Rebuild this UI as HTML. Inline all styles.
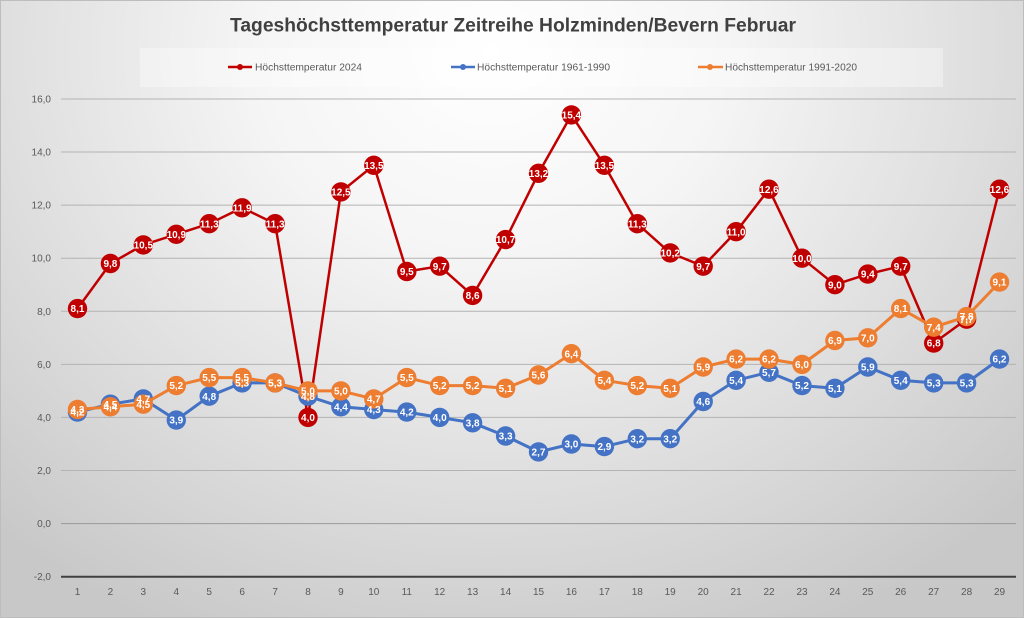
<!DOCTYPE html>
<html>
<head>
<meta charset="utf-8">
<style>
html,body{margin:0;padding:0;}
body{width:1024px;height:618px;overflow:hidden;}
.chart{position:relative;width:1024px;height:618px;box-sizing:border-box;border:1px solid #bdbdbd;
background:radial-gradient(ellipse 72% 105% at 48% 8%, #ffffff 0%, #f5f5f5 32%, #dfdfdf 66%, #c8c8c8 100%);}
svg{position:absolute;left:0;top:0;}
.t{font-family:"Liberation Sans",Arial,sans-serif;}
</style>
</head>
<body>
<div class="chart">
<svg width="1024" height="618" viewBox="0 0 1024 618" xmlns="http://www.w3.org/2000/svg">
  <!-- Title -->
  <text class="t" x="512" y="30.5" text-anchor="middle" font-size="19.5" font-weight="bold" fill="#404040" textLength="566" lengthAdjust="spacingAndGlyphs">Tageshöchsttemperatur Zeitreihe Holzminden/Bevern Februar</text>

  <!-- Legend -->
  <rect x="139" y="47" width="803" height="39" fill="#ffffff" fill-opacity="0.35"/>
  <line x1="227" y1="66" x2="251" y2="66" stroke="#c00000" stroke-width="2.5"/>
  <circle cx="239" cy="66" r="3" fill="#c00000"/>
  <text class="t" x="254" y="69.5" font-size="10" fill="#595959" textLength="107" lengthAdjust="spacingAndGlyphs">Höchsttemperatur 2024</text>
  <line x1="450" y1="66" x2="474" y2="66" stroke="#4472c4" stroke-width="2.5"/>
  <circle cx="462" cy="66" r="3" fill="#4472c4"/>
  <text class="t" x="476" y="69.5" font-size="10" fill="#595959" textLength="133" lengthAdjust="spacingAndGlyphs">Höchsttemperatur 1961-1990</text>
  <line x1="697" y1="66" x2="722" y2="66" stroke="#ed7d31" stroke-width="2.5"/>
  <circle cx="709" cy="66" r="3" fill="#ed7d31"/>
  <text class="t" x="724" y="69.5" font-size="10" fill="#595959" textLength="132" lengthAdjust="spacingAndGlyphs">Höchsttemperatur 1991-2020</text>

  <!-- Gridlines -->
  <g stroke="#b3b3b3" stroke-width="1">
    <line x1="60" y1="98" x2="1015" y2="98"/>
    <line x1="60" y1="151" x2="1015" y2="151"/>
    <line x1="60" y1="204.1" x2="1015" y2="204.1"/>
    <line x1="60" y1="257.2" x2="1015" y2="257.2"/>
    <line x1="60" y1="310.3" x2="1015" y2="310.3"/>
    <line x1="60" y1="363.4" x2="1015" y2="363.4"/>
    <line x1="60" y1="416.4" x2="1015" y2="416.4"/>
    <line x1="60" y1="469.5" x2="1015" y2="469.5"/>
    <line x1="60" y1="522.6" x2="1015" y2="522.6" stroke="#9a9a9a"/>
  </g>
  <line x1="60" y1="575.7" x2="1015" y2="575.7" stroke="#404040" stroke-width="2"/>

  <!-- Y axis labels -->
  <g class="t" font-size="10" fill="#595959" text-anchor="end">
    <text x="50" y="101.5">16,0</text>
    <text x="50" y="154.5">14,0</text>
    <text x="50" y="207.6">12,0</text>
    <text x="50" y="260.7">10,0</text>
    <text x="50" y="313.8">8,0</text>
    <text x="50" y="366.9">6,0</text>
    <text x="50" y="419.9">4,0</text>
    <text x="50" y="473">2,0</text>
    <text x="50" y="526.1">0,0</text>
    <text x="50" y="579.2">-2,0</text>
  </g>

  <!-- X axis labels -->
  <g class="t" font-size="10" fill="#595959" text-anchor="middle">
    <text x="76.5" y="594">1</text><text x="109.4" y="594">2</text><text x="142.3" y="594">3</text><text x="175.3" y="594">4</text><text x="208.2" y="594">5</text><text x="241.1" y="594">6</text><text x="274.1" y="594">7</text><text x="307" y="594">8</text><text x="339.9" y="594">9</text><text x="372.8" y="594">10</text><text x="405.8" y="594">11</text><text x="438.7" y="594">12</text><text x="471.6" y="594">13</text><text x="504.6" y="594">14</text><text x="537.5" y="594">15</text><text x="570.4" y="594">16</text><text x="603.4" y="594">17</text><text x="636.3" y="594">18</text><text x="669.2" y="594">19</text><text x="702.2" y="594">20</text><text x="735.1" y="594">21</text><text x="768" y="594">22</text><text x="801" y="594">23</text><text x="833.9" y="594">24</text><text x="866.8" y="594">25</text><text x="899.7" y="594">26</text><text x="932.7" y="594">27</text><text x="965.6" y="594">28</text><text x="998.5" y="594">29</text>
  </g>

  <!-- Red series 2024 -->
  <polyline fill="none" stroke="#c00000" stroke-width="2.5" stroke-linejoin="round" points="76.5,307.6 109.4,262.5 142.3,243.9 175.3,233.3 208.2,222.7 241.1,206.8 274.1,222.7 307,416.4 339.9,190.9 372.8,164.3 405.8,270.5 438.7,265.2 471.6,294.4 504.6,238.6 537.5,172.3 570.4,113.9 603.4,164.3 636.3,222.7 669.2,251.9 702.2,265.2 735.1,230.7 768,188.2 801,257.2 833.9,283.7 866.8,273.1 899.7,265.2 932.7,342.1 965.6,318.2 998.5,188.2"/>
  <g fill="#c00000">
    <circle cx="76.5" cy="307.6" r="9.7"/><circle cx="109.4" cy="262.5" r="9.7"/><circle cx="142.3" cy="243.9" r="9.7"/><circle cx="175.3" cy="233.3" r="9.7"/><circle cx="208.2" cy="222.7" r="9.7"/><circle cx="241.1" cy="206.8" r="9.7"/><circle cx="274.1" cy="222.7" r="9.7"/><circle cx="307" cy="416.4" r="9.7"/><circle cx="339.9" cy="190.9" r="9.7"/><circle cx="372.8" cy="164.3" r="9.7"/><circle cx="405.8" cy="270.5" r="9.7"/><circle cx="438.7" cy="265.2" r="9.7"/><circle cx="471.6" cy="294.4" r="9.7"/><circle cx="504.6" cy="238.6" r="9.7"/><circle cx="537.5" cy="172.3" r="9.7"/><circle cx="570.4" cy="113.9" r="9.7"/><circle cx="603.4" cy="164.3" r="9.7"/><circle cx="636.3" cy="222.7" r="9.7"/><circle cx="669.2" cy="251.9" r="9.7"/><circle cx="702.2" cy="265.2" r="9.7"/><circle cx="735.1" cy="230.7" r="9.7"/><circle cx="768" cy="188.2" r="9.7"/><circle cx="801" cy="257.2" r="9.7"/><circle cx="833.9" cy="283.7" r="9.7"/><circle cx="866.8" cy="273.1" r="9.7"/><circle cx="899.7" cy="265.2" r="9.7"/><circle cx="932.7" cy="342.1" r="9.7"/><circle cx="965.6" cy="318.2" r="9.7"/><circle cx="998.5" cy="188.2" r="9.7"/>
  </g>

  <!-- Blue series 1961-1990 -->
  <polyline fill="none" stroke="#4472c4" stroke-width="3" stroke-linejoin="round" points="76.5,411.1 109.4,403.2 142.3,397.9 175.3,419.1 208.2,395.2 241.1,381.9 274.1,381.9 307,395.2 339.9,405.8 372.8,408.5 405.8,411.1 438.7,416.4 471.6,421.8 504.6,435 537.5,450.9 570.4,443 603.4,445.6 636.3,437.7 669.2,437.7 702.2,400.5 735.1,379.3 768,371.3 801,384.6 833.9,387.3 866.8,366 899.7,379.3 932.7,381.9 965.6,381.9 998.5,358.1"/>
  <g fill="#4472c4">
    <circle cx="76.5" cy="411.1" r="9.7"/><circle cx="109.4" cy="403.2" r="9.7"/><circle cx="142.3" cy="397.9" r="9.7"/><circle cx="175.3" cy="419.1" r="9.7"/><circle cx="208.2" cy="395.2" r="9.7"/><circle cx="241.1" cy="381.9" r="9.7"/><circle cx="274.1" cy="381.9" r="9.7"/><circle cx="307" cy="395.2" r="9.7"/><circle cx="339.9" cy="405.8" r="9.7"/><circle cx="372.8" cy="408.5" r="9.7"/><circle cx="405.8" cy="411.1" r="9.7"/><circle cx="438.7" cy="416.4" r="9.7"/><circle cx="471.6" cy="421.8" r="9.7"/><circle cx="504.6" cy="435" r="9.7"/><circle cx="537.5" cy="450.9" r="9.7"/><circle cx="570.4" cy="443" r="9.7"/><circle cx="603.4" cy="445.6" r="9.7"/><circle cx="636.3" cy="437.7" r="9.7"/><circle cx="669.2" cy="437.7" r="9.7"/><circle cx="702.2" cy="400.5" r="9.7"/><circle cx="735.1" cy="379.3" r="9.7"/><circle cx="768" cy="371.3" r="9.7"/><circle cx="801" cy="384.6" r="9.7"/><circle cx="833.9" cy="387.3" r="9.7"/><circle cx="866.8" cy="366" r="9.7"/><circle cx="899.7" cy="379.3" r="9.7"/><circle cx="932.7" cy="381.9" r="9.7"/><circle cx="965.6" cy="381.9" r="9.7"/><circle cx="998.5" cy="358.1" r="9.7"/>
  </g>

  <!-- Orange series 1991-2020 -->
  <polyline fill="none" stroke="#ed7d31" stroke-width="3" stroke-linejoin="round" points="76.5,408.5 109.4,405.8 142.3,403.2 175.3,384.6 208.2,376.6 241.1,376.6 274.1,381.9 307,389.9 339.9,389.9 372.8,397.9 405.8,376.6 438.7,384.6 471.6,384.6 504.6,387.3 537.5,374 570.4,352.7 603.4,379.3 636.3,384.6 669.2,387.3 702.2,366 735.1,358.1 768,358.1 801,363.4 833.9,339.5 866.8,336.8 899.7,307.6 932.7,326.2 965.6,315.6 998.5,281.1"/>
  <g fill="#ed7d31">
    <circle cx="76.5" cy="408.5" r="9.7"/><circle cx="109.4" cy="405.8" r="9.7"/><circle cx="142.3" cy="403.2" r="9.7"/><circle cx="175.3" cy="384.6" r="9.7"/><circle cx="208.2" cy="376.6" r="9.7"/><circle cx="241.1" cy="376.6" r="9.7"/><circle cx="274.1" cy="381.9" r="9.7"/><circle cx="307" cy="389.9" r="9.7"/><circle cx="339.9" cy="389.9" r="9.7"/><circle cx="372.8" cy="397.9" r="9.7"/><circle cx="405.8" cy="376.6" r="9.7"/><circle cx="438.7" cy="384.6" r="9.7"/><circle cx="471.6" cy="384.6" r="9.7"/><circle cx="504.6" cy="387.3" r="9.7"/><circle cx="537.5" cy="374" r="9.7"/><circle cx="570.4" cy="352.7" r="9.7"/><circle cx="603.4" cy="379.3" r="9.7"/><circle cx="636.3" cy="384.6" r="9.7"/><circle cx="669.2" cy="387.3" r="9.7"/><circle cx="702.2" cy="366" r="9.7"/><circle cx="735.1" cy="358.1" r="9.7"/><circle cx="768" cy="358.1" r="9.7"/><circle cx="801" cy="363.4" r="9.7"/><circle cx="833.9" cy="339.5" r="9.7"/><circle cx="866.8" cy="336.8" r="9.7"/><circle cx="899.7" cy="307.6" r="9.7"/><circle cx="932.7" cy="326.2" r="9.7"/><circle cx="965.6" cy="315.6" r="9.7"/><circle cx="998.5" cy="281.1" r="9.7"/>
  </g>

  <!-- Data labels: red -->
  <g class="t" font-size="10" font-weight="bold" fill="#ffffff" text-anchor="middle">
    <text x="76.5" y="311.2">8,1</text><text x="109.4" y="266.1">9,8</text><text x="142.3" y="247.5">10,5</text><text x="175.3" y="236.9">10,9</text><text x="208.2" y="226.3">11,3</text><text x="241.1" y="210.4">11,9</text><text x="274.1" y="226.3">11,3</text><text x="307" y="420">4,0</text><text x="339.9" y="194.5">12,5</text><text x="372.8" y="167.9">13,5</text><text x="405.8" y="274.1">9,5</text><text x="438.7" y="268.8">9,7</text><text x="471.6" y="298">8,6</text><text x="504.6" y="242.2">10,7</text><text x="537.5" y="175.9">13,2</text><text x="570.4" y="117.5">15,4</text><text x="603.4" y="167.9">13,5</text><text x="636.3" y="226.3">11,3</text><text x="669.2" y="255.5">10,2</text><text x="702.2" y="268.8">9,7</text><text x="735.1" y="234.3">11,0</text><text x="768" y="191.8">12,6</text><text x="801" y="260.8">10,0</text><text x="833.9" y="287.3">9,0</text><text x="866.8" y="276.7">9,4</text><text x="899.7" y="268.8">9,7</text><text x="932.7" y="345.7">6,8</text><text x="965.6" y="321.8">7,7</text><text x="998.5" y="191.8">12,6</text>
  </g>
  <!-- Data labels: blue -->
  <g class="t" font-size="10" font-weight="bold" fill="#ffffff" text-anchor="middle">
    <text x="76.5" y="414.7">4,2</text><text x="109.4" y="406.8">4,5</text><text x="142.3" y="401.5">4,7</text><text x="175.3" y="422.7">3,9</text><text x="208.2" y="398.8">4,8</text><text x="241.1" y="385.5">5,3</text><text x="274.1" y="385.5">5,3</text><text x="307" y="398.8">4,8</text><text x="339.9" y="409.4">4,4</text><text x="372.8" y="412.1">4,3</text><text x="405.8" y="414.7">4,2</text><text x="438.7" y="420">4,0</text><text x="471.6" y="425.4">3,8</text><text x="504.6" y="438.6">3,3</text><text x="537.5" y="454.5">2,7</text><text x="570.4" y="446.6">3,0</text><text x="603.4" y="449.2">2,9</text><text x="636.3" y="441.3">3,2</text><text x="669.2" y="441.3">3,2</text><text x="702.2" y="404.1">4,6</text><text x="735.1" y="382.9">5,4</text><text x="768" y="374.9">5,7</text><text x="801" y="388.2">5,2</text><text x="833.9" y="390.9">5,1</text><text x="866.8" y="369.6">5,9</text><text x="899.7" y="382.9">5,4</text><text x="932.7" y="385.5">5,3</text><text x="965.6" y="385.5">5,3</text><text x="998.5" y="361.7">6,2</text>
  </g>
  <!-- Data labels: orange -->
  <g class="t" font-size="10" font-weight="bold" fill="#ffffff" text-anchor="middle">
    <text x="76.5" y="412.1">4,3</text><text x="109.4" y="409.4">4,4</text><text x="142.3" y="406.8">4,5</text><text x="175.3" y="388.2">5,2</text><text x="208.2" y="380.2">5,5</text><text x="241.1" y="380.2">5,5</text><text x="274.1" y="385.5">5,3</text><text x="307" y="393.5">5,0</text><text x="339.9" y="393.5">5,0</text><text x="372.8" y="401.5">4,7</text><text x="405.8" y="380.2">5,5</text><text x="438.7" y="388.2">5,2</text><text x="471.6" y="388.2">5,2</text><text x="504.6" y="390.9">5,1</text><text x="537.5" y="377.6">5,6</text><text x="570.4" y="356.3">6,4</text><text x="603.4" y="382.9">5,4</text><text x="636.3" y="388.2">5,2</text><text x="669.2" y="390.9">5,1</text><text x="702.2" y="369.6">5,9</text><text x="735.1" y="361.7">6,2</text><text x="768" y="361.7">6,2</text><text x="801" y="367">6,0</text><text x="833.9" y="343.1">6,9</text><text x="866.8" y="340.4">7,0</text><text x="899.7" y="311.2">8,1</text><text x="932.7" y="329.8">7,4</text><text x="965.6" y="319.2">7,8</text><text x="998.5" y="284.7">9,1</text>
  </g>
</svg>
</div>
</body>
</html>
